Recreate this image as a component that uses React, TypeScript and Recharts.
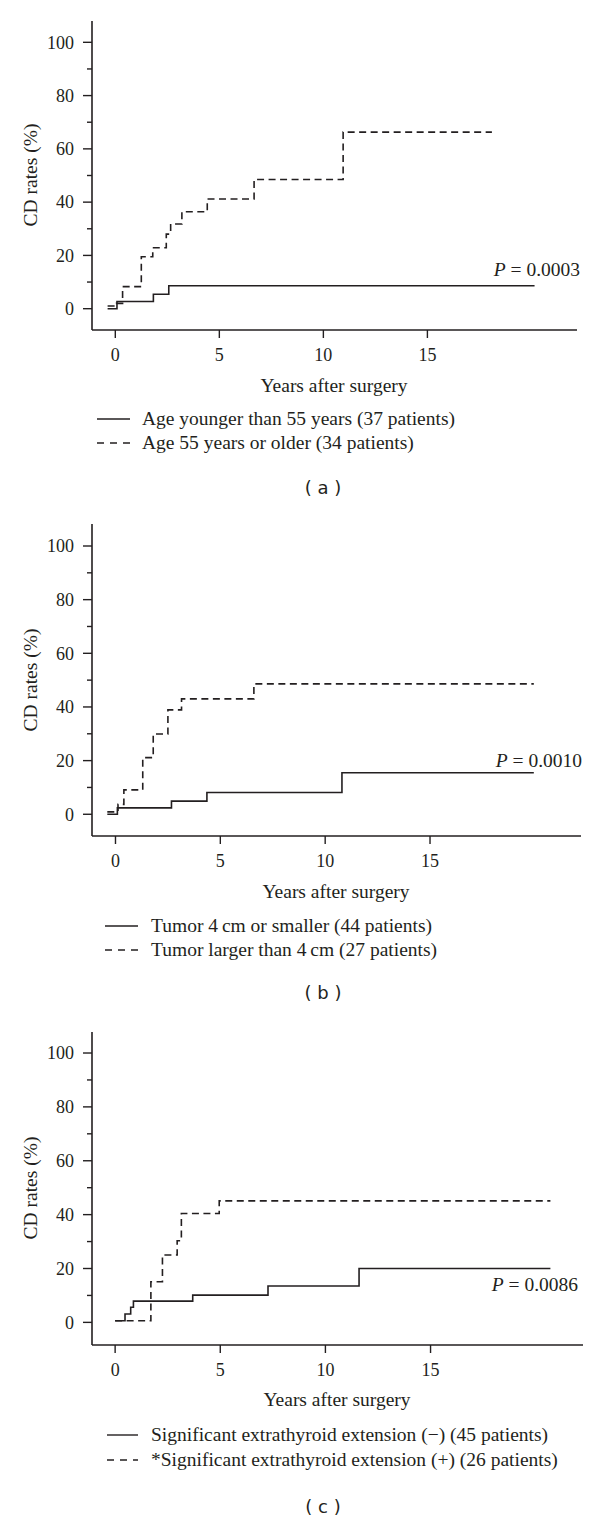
import React from 'react';
import { LineChart, Line, XAxis, YAxis } from 'recharts';

const INK = '#231f20';
const SERIF = '"Liberation Serif", "Times New Roman", serif';
const SANS = '"DejaVu Sans", "Liberation Sans", sans-serif';

// axis ticks
const xTicks = [0, 5, 10, 15];
const yTicks = [0, 10, 20, 30, 40, 50, 60, 70, 80, 90, 100];

// (a) age groups: step times (years) and cumulative CD rates (%)
const ageYoungT = [-0.37, 0.08, 1.83, 2.57, 20.15];
const ageYoungV = [0, 2.7, 5.4, 8.6, 8.6];
const ageOldT = [-0.37, 0.06, 0.35, 1.25, 1.8, 2.45, 2.66, 3.2, 4.42, 6.67, 10.95, 18.1];
const ageOldV = [1, 2, 8.3, 19.5, 22.9, 28, 31.8, 36.4, 41.2, 48.5, 66.3, 66.3];

// (b) tumor size
const tumorSmallT = [-0.39, 0.09, 2.67, 4.36, 10.8, 19.95];
const tumorSmallV = [0, 2.4, 4.9, 8.1, 15.5, 15.5];
const tumorLargeT = [-0.39, 0.12, 0.4, 1.3, 1.8, 2.5, 3.15, 6.6, 19.95];
const tumorLargeV = [0.9, 3.7, 9.1, 21.1, 29.9, 38.9, 43, 48.6, 48.6];

// (c) extrathyroid extension
const extNegT = [0, 0.47, 0.74, 0.87, 3.69, 7.27, 11.6, 20.7];
const extNegV = [0.6, 3.1, 5.6, 7.9, 10.1, 13.5, 20, 20];
const extPosT = [0, 1.7, 2.25, 2.95, 3.15, 4.95, 20.7];
const extPosV = [0.6, 15.1, 25, 30.3, 40.4, 45.1, 45.1];

const toRows = (t: number[], v: number[]) => t.map((x, i) => ({ t: x, v: v[i] }));

const Y_TICK_SIZE = 9;
const Y_TICK_MARGIN = 9;
const TICK_FONT = 18;
const TEXT_FONT = 19.5;

const YTick = (props: any) => {
  const { x, y, payload } = props;
  const major = payload.value % 20 === 0;
  const axisX = x + Y_TICK_SIZE + Y_TICK_MARGIN;
  const len = major ? 9 : 5;
  return (
    <g>
      <line x1={axisX - len} x2={axisX} y1={y} y2={y} stroke={INK} strokeWidth={1.4} />
      {major && (
        <text x={x} y={y} dy="0.35em" textAnchor="end" fontSize={TICK_FONT} fontFamily={SERIF} fill={INK}>
          {payload.value}
        </text>
      )}
    </g>
  );
};

const Txt = ({ x, y, anchor = 'middle', size = TEXT_FONT, family = SERIF, rotate = false, children }: any) => {
  const tx = anchor === 'start' ? '0' : anchor === 'end' ? '-100%' : '-50%';
  return (
    <div
      style={{
        position: 'absolute',
        left: x,
        top: y,
        transform: `translate(${tx}, -50%)${rotate ? ' rotate(-90deg)' : ''}`,
        fontFamily: family,
        fontSize: size,
        lineHeight: 1,
        color: INK,
        whiteSpace: 'nowrap',
      }}
    >
      {children}
    </div>
  );
};

const LegendLine = ({ x1, x2, y, dashed }: any) => (
  <svg style={{ position: 'absolute', left: 0, top: 0, overflow: 'visible' }} width={1} height={1}>
    <line x1={x1} x2={x2} y1={y} y2={y} stroke={INK} strokeWidth={1.4} strokeDasharray={dashed ? '7 6' : undefined} />
  </svg>
);

interface PanelProps {
  top: number;
  height: number;
  right: number;
  xDomain: number[];
  yDomain: number[];
  solid: { t: number; v: number }[];
  dashed: { t: number; v: number }[];
}

const Panel = ({ top, height, right, xDomain, yDomain, solid, dashed }: PanelProps) => (
  <div style={{ position: 'absolute', left: 0, top, width: 600, height }}>
    <LineChart width={600} height={height} margin={{ top: 21, right, bottom: 0, left: 0 }}>
      <XAxis
        type="number"
        dataKey="t"
        domain={xDomain}
        ticks={xTicks}
        interval={0}
        allowDataOverflow
        height={40}
        tickSize={8}
        tickMargin={10}
        axisLine={{ stroke: INK, strokeWidth: 1.6 }}
        tickLine={{ stroke: INK, strokeWidth: 1.4 }}
        tick={{ fontSize: TICK_FONT, fill: INK, fontFamily: SERIF }}
      />
      <YAxis
        type="number"
        domain={yDomain}
        ticks={yTicks}
        interval={0}
        allowDataOverflow
        width={92}
        tickSize={Y_TICK_SIZE}
        tickMargin={Y_TICK_MARGIN}
        tickLine={false}
        axisLine={{ stroke: INK, strokeWidth: 1.6 }}
        tick={<YTick />}
      />
      <Line data={solid} dataKey="v" type="stepAfter" stroke={INK} strokeWidth={1.6} dot={false} isAnimationActive={false} />
      <Line
        data={dashed}
        dataKey="v"
        type="stepAfter"
        stroke={INK}
        strokeWidth={1.6}
        strokeDasharray="7 4.5"
        dot={false}
        isAnimationActive={false}
      />
    </LineChart>
  </div>
);

const PVal = ({ x, y, value }: any) => (
  <Txt x={x} y={y} anchor="end">
    <i>P</i>&nbsp;=&nbsp;{value}
  </Txt>
);

export default function App() {
  return (
    <div style={{ position: 'absolute', left: 0, top: 0, width: 600, height: 1522, background: '#fff' }}>
      {/* (a) */}
      <Panel top={0} height={370} right={23} xDomain={[-1.12, 22.19]} yDomain={[-8, 108]} solid={toRows(ageYoungT, ageYoungV)} dashed={toRows(ageOldT, ageOldV)} />
      <Txt x={31} y={175} rotate>CD rates (%)</Txt>
      <PVal x={580} y={270} value="0.0003" />
      <Txt x={334} y={386}>Years after surgery</Txt>
      <LegendLine x1={97} x2={130} y={419} />
      <Txt x={142} y={419} anchor="start">Age younger than 55 years (37 patients)</Txt>
      <LegendLine x1={97} x2={130} y={443} dashed />
      <Txt x={142} y={443} anchor="start">Age 55 years or older (34 patients)</Txt>
      <Txt x={323} y={488} size={18} family={SANS}>( a )</Txt>

      {/* (b) */}
      <Panel top={503} height={373} right={19} xDomain={[-1.12, 22.2]} yDomain={[-8.1, 108.2]} solid={toRows(tumorSmallT, tumorSmallV)} dashed={toRows(tumorLargeT, tumorLargeV)} />
      <Txt x={31} y={680} rotate>CD rates (%)</Txt>
      <PVal x={582} y={761} value="0.0010" />
      <Txt x={336} y={892}>Years after surgery</Txt>
      <LegendLine x1={105} x2={138} y={926} />
      <Txt x={151} y={926} anchor="start">Tumor 4&thinsp;cm or smaller (44 patients)</Txt>
      <LegendLine x1={105} x2={138} y={950} dashed />
      <Txt x={151} y={950} anchor="start">Tumor larger than 4&thinsp;cm (27 patients)</Txt>
      <Txt x={323} y={993} size={18} family={SANS}>( b )</Txt>

      {/* (c) */}
      <Panel top={1011} height={374} right={17} xDomain={[-1.1, 22.25]} yDomain={[-8.4, 107.8]} solid={toRows(extNegT, extNegV)} dashed={toRows(extPosT, extPosV)} />
      <Txt x={31} y={1188} rotate>CD rates (%)</Txt>
      <PVal x={578} y={1285} value="0.0086" />
      <Txt x={337} y={1400}>Years after surgery</Txt>
      <LegendLine x1={107} x2={138} y={1435} />
      <Txt x={151} y={1435} anchor="start">Significant extrathyroid extension (−) (45 patients)</Txt>
      <LegendLine x1={107} x2={138} y={1460} dashed />
      <Txt x={151} y={1460} anchor="start">*Significant extrathyroid extension (+) (26 patients)</Txt>
      <Txt x={323} y={1507} size={18} family={SANS}>( c )</Txt>
    </div>
  );
}
